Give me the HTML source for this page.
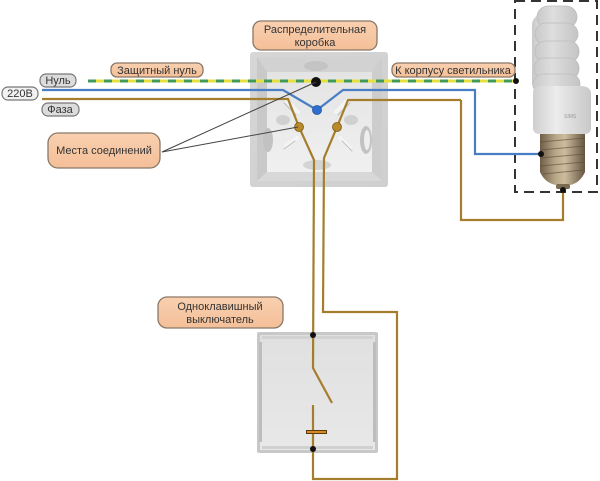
<!DOCTYPE html>
<html><head><meta charset="utf-8"><style>
html,body{margin:0;padding:0;background:#fff;}
svg{display:block;}
text{font-family:"Liberation Sans",Arial,sans-serif;fill:#333;}
</style></head><body>
<svg width="600" height="481" viewBox="0 0 600 481" xmlns="http://www.w3.org/2000/svg">
<defs>
<linearGradient id="peach" x1="0" y1="0" x2="0" y2="1">
<stop offset="0" stop-color="#f9d0b0"/><stop offset="1" stop-color="#f4bf98"/></linearGradient>
<linearGradient id="boxg" x1="0" y1="0" x2="1" y2="1">
<stop offset="0" stop-color="#d6d6d6"/><stop offset="1" stop-color="#cfcfcf"/></linearGradient>
<linearGradient id="floor" x1="0" y1="0" x2="0" y2="1">
<stop offset="0" stop-color="#e4e4e4"/><stop offset="1" stop-color="#f0f0f0"/></linearGradient>
<linearGradient id="sw" x1="0" y1="0" x2="0" y2="1">
<stop offset="0" stop-color="#e0e0e0"/><stop offset="1" stop-color="#e8e8e8"/></linearGradient>
<linearGradient id="screw" x1="0" y1="0" x2="1" y2="0">
<stop offset="0" stop-color="#6e5e48"/><stop offset="0.35" stop-color="#b9a888"/><stop offset="0.55" stop-color="#cdbd9e"/><stop offset="1" stop-color="#655540"/></linearGradient>
<linearGradient id="ball" x1="0" y1="0" x2="1" y2="0">
<stop offset="0" stop-color="#cfcfcf"/><stop offset="0.4" stop-color="#ececec"/><stop offset="1" stop-color="#c8c8c8"/></linearGradient>
<linearGradient id="coil" x1="0" y1="0" x2="1" y2="0">
<stop offset="0" stop-color="#c9c9c9"/><stop offset="0.4" stop-color="#dedede"/><stop offset="1" stop-color="#c4c4c4"/></linearGradient>
</defs>
<rect width="600" height="481" fill="#fff"/>

<!-- Junction box -->
<rect x="250" y="52" width="138" height="135" rx="3" fill="url(#boxg)"/>
<rect x="257" y="57" width="125" height="124" fill="#dcdcdc"/>
<polygon points="257,57 382,57 372,72 267,72" fill="#d2d2d2"/>
<polygon points="257,57 267,72 267,172 257,181" fill="#c9c9c9"/>
<polygon points="382,57 372,72 372,172 382,181" fill="#cdcdcd"/>
<polygon points="257,181 267,172 372,172 382,181" fill="#d8d8d8"/>
<rect x="267" y="72" width="105" height="100" fill="url(#floor)"/>
<ellipse cx="316" cy="66" rx="12" ry="5" fill="#c4c4c4"/>
<ellipse cx="268" cy="140" rx="5" ry="12" fill="#c2c2c2"/>
<ellipse cx="366" cy="140" rx="6" ry="14" fill="#c2c2c2"/>
<ellipse cx="367" cy="140" rx="3" ry="10" fill="#eeeeee"/>
<ellipse cx="283" cy="120" rx="7" ry="5" fill="#d0d0d0"/>
<ellipse cx="351" cy="120" rx="7" ry="5" fill="#d0d0d0"/>
<ellipse cx="317" cy="165" rx="14" ry="5" fill="#d4d4d4"/>
<g stroke="#f4f4f4" stroke-width="4" stroke-linecap="round">
<line x1="286" y1="100" x2="298" y2="112"/>
<line x1="348" y1="100" x2="336" y2="112"/>
<line x1="286" y1="146" x2="297" y2="138"/>
<line x1="350" y1="148" x2="340" y2="138"/>
</g>
<g stroke="#bdbdbd" stroke-width="1" stroke-linecap="round">
<line x1="284" y1="103" x2="296" y2="115"/>
<line x1="350" y1="103" x2="338" y2="115"/>
<line x1="284" y1="149" x2="295" y2="141"/>
<line x1="352" y1="151" x2="342" y2="141"/>
</g>

<!-- Switch -->
<rect x="257" y="332" width="121" height="121" rx="2" fill="#c8c8c8"/>
<rect x="260" y="335" width="115" height="115" fill="url(#sw)"/>
<rect x="262" y="336" width="111" height="3" fill="#d2d2d2"/>
<rect x="259" y="342" width="3" height="100" fill="#bdbdbd"/>
<rect x="373" y="342" width="3" height="100" fill="#bdbdbd"/>
<rect x="262" y="446" width="111" height="3" fill="#d0d0d0"/>

<!-- Lamp -->
<rect x="532" y="14" width="24" height="80" rx="11" fill="url(#coil)"/>
<rect x="537" y="6" width="40" height="22" rx="11" fill="url(#coil)" stroke="#bdbdbd" stroke-width="0.8"/>
<rect x="535" y="23" width="43" height="22" rx="11" fill="url(#coil)" stroke="#bdbdbd" stroke-width="0.8"/>
<rect x="535" y="41" width="44" height="21" rx="10" fill="url(#coil)" stroke="#bdbdbd" stroke-width="0.8"/>
<rect x="534" y="58" width="45" height="21" rx="10" fill="url(#coil)" stroke="#bdbdbd" stroke-width="0.8"/>
<rect x="533" y="74" width="47" height="20" rx="10" fill="url(#coil)" stroke="#bdbdbd" stroke-width="0.8"/>
<path d="M533,92 Q533,86 545,86 L580,86 Q591,86 591,94 L591,128 Q591,134 584,134 L540,134 Q533,134 533,128 Z" fill="url(#ball)"/>
<text x="564" y="118" font-size="5" style="fill:#9a9a9a">SIMS</text>
<path d="M540,134 L585,134 L585,172 Q580,183 570,185 L556,185 Q545,183 540,172 Z" fill="url(#screw)"/>
<g stroke="#5a4b38" stroke-width="1" opacity="0.6">
<line x1="540" y1="142" x2="585" y2="138"/>
<line x1="540" y1="150" x2="585" y2="146"/>
<line x1="540" y1="158" x2="585" y2="154"/>
<line x1="540" y1="166" x2="585" y2="162"/>
<line x1="543" y1="174" x2="583" y2="170"/>
</g>
<rect x="556" y="184" width="14" height="5" rx="2" fill="#7a6a50"/>

<!-- Dashed lamp frame -->
<rect x="515" y="1" width="82" height="191" fill="none" stroke="#333" stroke-width="2" stroke-dasharray="10,6"/>

<!-- Wires -->
<g fill="none" stroke-width="2.2" stroke-linejoin="miter">
<line x1="88" y1="81" x2="516" y2="81" stroke="#e6e03c" stroke-width="3"/>
<line x1="88" y1="81" x2="516" y2="81" stroke="#3f9a5c" stroke-width="3" stroke-dasharray="8,8"/>
<polyline points="42,90 283,90 317,110 343,90 475,90 475,154 541,154" stroke="#4a7ec4"/>
<polyline points="42,99 288,99 299,127 314,160 313,368 332,403" stroke="#a47e2c"/>
<polyline points="461,100 348,100 337,127 324,158 323,312 397,312 397,479 313,479 313,405" stroke="#a47e2c"/>
<polyline points="461,100 461,220 563,220 563,190" stroke="#a47e2c"/>
</g>
<line x1="306" y1="432" x2="327" y2="432" stroke="#5a3a10" stroke-width="4"/>
<line x1="307" y1="432" x2="326" y2="432" stroke="#d88a20" stroke-width="2"/>

<!-- Dots -->
<circle cx="316" cy="82" r="5" fill="#111"/>
<circle cx="317" cy="110" r="4.5" fill="#2f6fd0" stroke="#1d4f9a" stroke-width="0.8"/>
<circle cx="299" cy="127" r="4.5" fill="#b98a2a" stroke="#7a5a18" stroke-width="0.8"/>
<circle cx="337" cy="127" r="4.5" fill="#b98a2a" stroke="#7a5a18" stroke-width="0.8"/>
<circle cx="516" cy="81" r="3" fill="#111"/>
<circle cx="541" cy="154" r="3" fill="#111"/>
<circle cx="563" cy="190" r="3" fill="#111"/>
<circle cx="313" cy="335" r="3" fill="#111"/>
<circle cx="313" cy="449" r="3" fill="#111"/>

<!-- Connector lines -->
<line x1="162" y1="152" x2="316" y2="82" stroke="#444" stroke-width="1"/>
<line x1="162" y1="152" x2="298" y2="127" stroke="#444" stroke-width="1"/>

<!-- Labels -->
<g stroke="#8a7868" stroke-width="1.3" fill="url(#peach)">
<rect x="253" y="21" width="124" height="29" rx="8"/>
<rect x="111" y="63" width="92" height="14" rx="6"/>
<rect x="392" y="63" width="123" height="14" rx="6"/>
<rect x="48" y="133" width="112" height="35" rx="10"/>
<rect x="158" y="297" width="125" height="31" rx="9"/>
</g>
<g stroke="#777" stroke-width="1.2">
<rect x="40" y="74" width="36" height="13" rx="6" fill="#dcdcdc"/>
<rect x="2" y="87" width="36" height="13" rx="6" fill="#f2f2f2"/>
<rect x="42" y="103" width="37" height="13" rx="6" fill="#dcdcdc"/>
</g>
<g font-size="11" text-anchor="middle">
<text x="315" y="33">Распределительная</text>
<text x="315" y="46">коробка</text>
<text x="157" y="74">Защитный нуль</text>
<text x="453" y="74">К корпусу светильника</text>
<text x="104" y="154">Места соединений</text>
<text x="220" y="310">Одноклавишный</text>
<text x="220" y="323">выключатель</text>
<text x="58" y="84">Нуль</text>
<text x="20" y="97">220В</text>
<text x="60" y="113">Фаза</text>
</g>
</svg>
</body></html>
